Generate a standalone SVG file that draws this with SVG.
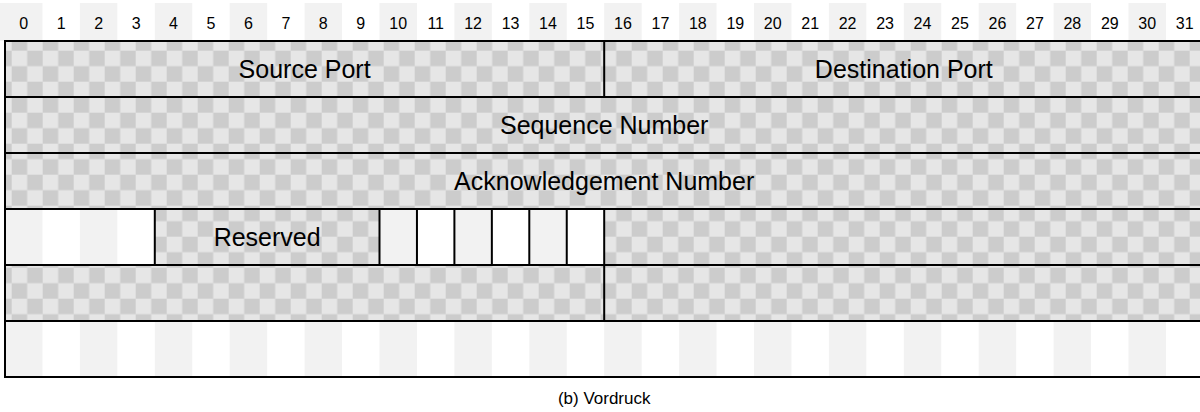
<svg xmlns="http://www.w3.org/2000/svg" width="1200" height="412" viewBox="0 0 1200 412">
<style>
.hd{font-family:"Liberation Sans",Arial,sans-serif;font-size:16px;fill:#000;text-anchor:middle}
.lb{font-family:"Liberation Sans",Arial,sans-serif;font-size:25px;fill:#000;text-anchor:middle}
.cap{font-family:"Liberation Sans",Arial,sans-serif;font-size:17px;fill:#000;text-anchor:middle}
.st{fill:#f2f2f2}
.ck{fill:url(#chk)}
.ln{stroke:#000;stroke-width:2;fill:none}
</style>
<defs>
<pattern id="chk" patternUnits="userSpaceOnUse" x="11.7" y="50.7" width="31" height="31">
<rect width="31" height="31" fill="#e6e6e6"/>
<rect x="15.5" y="0" width="15.5" height="15.5" fill="#cccccc"/>
<rect x="0" y="15.5" width="15.5" height="15.5" fill="#cccccc"/>
</pattern>
</defs>
<rect width="1200" height="412" fill="#fff"/>
<g id="bit-header">
<rect class="st" x="0" y="3" width="42.45" height="38"/>
<rect class="st" x="79.9" y="3" width="37.45" height="38"/>
<rect class="st" x="154.8" y="3" width="37.45" height="38"/>
<rect class="st" x="229.7" y="3" width="37.45" height="38"/>
<rect class="st" x="304.6" y="3" width="37.45" height="38"/>
<rect class="st" x="379.5" y="3" width="37.45" height="38"/>
<rect class="st" x="454.4" y="3" width="37.45" height="38"/>
<rect class="st" x="529.3" y="3" width="37.45" height="38"/>
<rect class="st" x="604.2" y="3" width="37.45" height="38"/>
<rect class="st" x="679.1" y="3" width="37.45" height="38"/>
<rect class="st" x="754" y="3" width="37.45" height="38"/>
<rect class="st" x="828.9" y="3" width="37.45" height="38"/>
<rect class="st" x="903.8" y="3" width="37.45" height="38"/>
<rect class="st" x="978.7" y="3" width="37.45" height="38"/>
<rect class="st" x="1053.6" y="3" width="37.45" height="38"/>
<rect class="st" x="1128.5" y="3" width="37.45" height="38"/>
<text class="hd" y="28.7"><tspan x="23.7">0</tspan><tspan x="61.2">1</tspan><tspan x="98.6">2</tspan><tspan x="136.1">3</tspan><tspan x="173.5">4</tspan><tspan x="211">5</tspan><tspan x="248.4">6</tspan><tspan x="285.9">7</tspan><tspan x="323.3">8</tspan><tspan x="360.8">9</tspan><tspan x="398.2">10</tspan><tspan x="435.7">11</tspan><tspan x="473.1">12</tspan><tspan x="510.6">13</tspan><tspan x="548">14</tspan><tspan x="585.5">15</tspan><tspan x="622.9">16</tspan><tspan x="660.4">17</tspan><tspan x="697.8">18</tspan><tspan x="735.3">19</tspan><tspan x="772.7">20</tspan><tspan x="810.2">21</tspan><tspan x="847.6">22</tspan><tspan x="885.1">23</tspan><tspan x="922.5">24</tspan><tspan x="960">25</tspan><tspan x="997.4">26</tspan><tspan x="1034.9">27</tspan><tspan x="1072.3">28</tspan><tspan x="1109.8">29</tspan><tspan x="1147.2">30</tspan><tspan x="1184.7">31</tspan></text>
</g>
<g id="source-port">
<rect class="ck" x="5" y="41" width="599.2" height="56"/>
<text class="lb" x="304.6" y="78">Source Port</text>
</g>
<g id="destination-port">
<rect class="ck" x="604.2" y="41" width="599.2" height="56"/>
<text class="lb" x="903.8" y="78">Destination Port</text>
</g>
<g id="sequence-number">
<rect class="ck" x="5" y="97" width="1198.4" height="56"/>
<text class="lb" x="604.2" y="134">Sequence Number</text>
</g>
<g id="acknowledgement-number">
<rect class="ck" x="5" y="153" width="1198.4" height="56"/>
<text class="lb" x="604.2" y="190">Acknowledgement Number</text>
</g>
<g id="data-offset">
<rect class="st" x="5" y="209" width="37.45" height="56"/>
<rect class="st" x="79.9" y="209" width="37.45" height="56"/>
</g>
<g id="reserved">
<rect class="ck" x="154.8" y="209" width="224.7" height="56"/>
<text class="lb" x="267.15" y="246">Reserved</text>
</g>
<g id="flags">
<rect class="st" x="379.5" y="209" width="37.45" height="56"/>
<rect class="st" x="454.4" y="209" width="37.45" height="56"/>
<rect class="st" x="529.3" y="209" width="37.45" height="56"/>
<path class="ln" d="M416.95 209V265M454.4 209V265M491.85 209V265M529.3 209V265M566.75 209V265"/>
</g>
<g id="window">
<rect class="ck" x="604.2" y="209" width="599.2" height="56"/>
</g>
<g id="checksum">
<rect class="ck" x="5" y="265" width="599.2" height="56"/>
</g>
<g id="urgent-pointer">
<rect class="ck" x="604.2" y="265" width="599.2" height="56"/>
</g>
<g id="options">
<rect class="st" x="5" y="321" width="37.45" height="56"/>
<rect class="st" x="79.9" y="321" width="37.45" height="56"/>
<rect class="st" x="154.8" y="321" width="37.45" height="56"/>
<rect class="st" x="229.7" y="321" width="37.45" height="56"/>
<rect class="st" x="304.6" y="321" width="37.45" height="56"/>
<rect class="st" x="379.5" y="321" width="37.45" height="56"/>
<rect class="st" x="454.4" y="321" width="37.45" height="56"/>
<rect class="st" x="529.3" y="321" width="37.45" height="56"/>
<rect class="st" x="604.2" y="321" width="37.45" height="56"/>
<rect class="st" x="679.1" y="321" width="37.45" height="56"/>
<rect class="st" x="754" y="321" width="37.45" height="56"/>
<rect class="st" x="828.9" y="321" width="37.45" height="56"/>
<rect class="st" x="903.8" y="321" width="37.45" height="56"/>
<rect class="st" x="978.7" y="321" width="37.45" height="56"/>
<rect class="st" x="1053.6" y="321" width="37.45" height="56"/>
<rect class="st" x="1128.5" y="321" width="37.45" height="56"/>
</g>
<g id="grid-lines">
<rect class="ln" x="5" y="41" width="1198.4" height="336"/>
<path class="ln" d="M5 97H1203.4M5 153H1203.4M5 209H1203.4M5 265H1203.4M5 321H1203.4"/>
<path class="ln" d="M604.2 41V97M604.2 209V321M154.8 209V265M379.5 209V265"/>
</g>
<text id="caption" class="cap" x="604.2" y="404">(b) Vordruck</text>
</svg>
